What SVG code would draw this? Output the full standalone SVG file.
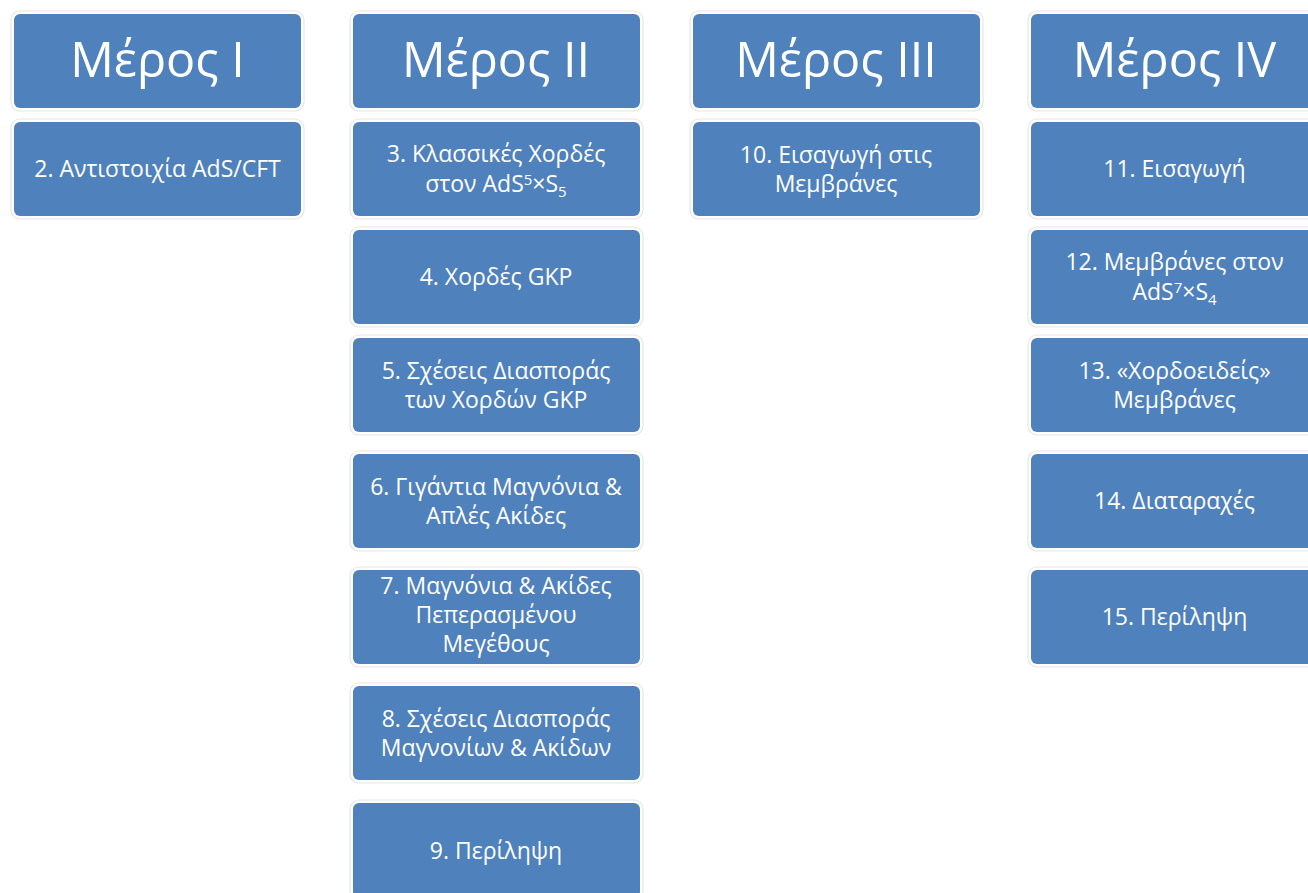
<svg xmlns="http://www.w3.org/2000/svg" width="1308" height="893" viewBox="0 0 1308 893">
<style>
.halo{fill:#ffffff;stroke:#e6e6e6;stroke-width:1.2}
.box{fill:#4f81bd}
.h{font-family:"Open Sans","Noto Sans","DejaVu Sans",sans-serif;font-size:48.5px;fill:#ffffff;text-anchor:middle}
.t{font-family:"Open Sans","Noto Sans","DejaVu Sans",sans-serif;font-size:23px;fill:#ffffff;text-anchor:middle}
.sm{font-size:15px}
</style>
<defs>
<g id="b"><rect class="halo" x="-3" y="-3" width="293" height="100" rx="9"/><rect class="box" x="0" y="0" width="287" height="94" rx="6"/></g>
</defs>
<rect width="1308" height="893" fill="#ffffff"/>
<g id="part1">
<use href="#b" x="14" y="14"/><text class="h" x="157.5" y="77">Μέρος I</text>
</g>
<g id="n2"><use href="#b" x="14" y="122"/><text class="t" x="157.5" y="177">2. Αντιστοιχία AdS/CFT</text></g>
<g id="part2">
<use href="#b" x="353" y="14"/><text class="h" x="496" y="77">Μέρος II</text>
</g>
<g id="n3"><use href="#b" x="353" y="122"/><text class="t" x="496" y="162">3. Κλασσικές Χορδές</text><text class="t" x="496" y="192">στον AdS<tspan class="sm" dy="-7">5</tspan><tspan dy="7">×S</tspan><tspan class="sm" dy="5">5</tspan></text></g>
<g id="n4"><use href="#b" x="353" y="230"/><text class="t" x="496" y="285">4. Χορδές GKP</text></g>
<g id="n5"><use href="#b" x="353" y="338"/><text class="t" x="496" y="379">5. Σχέσεις Διασποράς</text><text class="t" x="496" y="408">των Χορδών GKP</text></g>
<g id="n6"><use href="#b" x="353" y="454"/><text class="t" x="496" y="495">6. Γιγάντια Μαγνόνια &amp;</text><text class="t" x="496" y="524">Απλές Ακίδες</text></g>
<g id="n7"><use href="#b" x="353" y="570"/><text class="t" x="496" y="594">7. Μαγνόνια &amp; Ακίδες</text><text class="t" x="496" y="623">Πεπερασμένου</text><text class="t" x="496" y="652">Μεγέθους</text></g>
<g id="n8"><use href="#b" x="353" y="686"/><text class="t" x="496" y="727">8. Σχέσεις Διασποράς</text><text class="t" x="496" y="756">Μαγνονίων &amp; Ακίδων</text></g>
<g id="n9"><use href="#b" x="353" y="803"/><text class="t" x="496" y="859">9. Περίληψη</text></g>
<g id="part3">
<use href="#b" x="693" y="14"/><text class="h" x="836" y="77">Μέρος III</text>
</g>
<g id="n10"><use href="#b" x="693" y="122"/><text class="t" x="836" y="163">10. Εισαγωγή στις</text><text class="t" x="836" y="192">Μεμβράνες</text></g>
<g id="part4">
<use href="#b" x="1031" y="14"/><text class="h" x="1174.5" y="77">Μέρος IV</text>
</g>
<g id="n11"><use href="#b" x="1031" y="122"/><text class="t" x="1174.5" y="177">11. Εισαγωγή</text></g>
<g id="n12"><use href="#b" x="1031" y="230"/><text class="t" x="1174.5" y="270">12. Μεμβράνες στον</text><text class="t" x="1174.5" y="300">AdS<tspan class="sm" dy="-7">7</tspan><tspan dy="7">×S</tspan><tspan class="sm" dy="5">4</tspan></text></g>
<g id="n13"><use href="#b" x="1031" y="338"/><text class="t" x="1174.5" y="379">13. «Χορδοειδείς»</text><text class="t" x="1174.5" y="408">Μεμβράνες</text></g>
<g id="n14"><use href="#b" x="1031" y="454"/><text class="t" x="1174.5" y="509">14. Διαταραχές</text></g>
<g id="n15"><use href="#b" x="1031" y="570"/><text class="t" x="1174.5" y="625">15. Περίληψη</text></g>
<g id="connectors"></g>
</svg>
